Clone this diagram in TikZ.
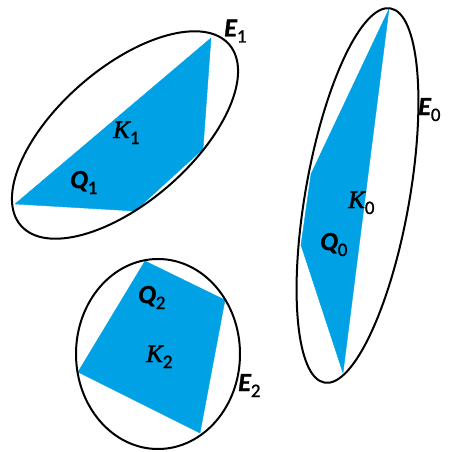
\documentclass[tikz,border=0pt]{standalone}
\usepackage{fontspec}
\setmainfont{Carlito}
\newfontfamily\bifont{Carlito}[UprightFont={* Bold Italic}, FakeBold=1.2]
\newfontfamily\subfont{Carlito}[FakeBold=1.2]
\newfontfamily\kfont{Liberation Serif}[UprightFont={* Italic}, FakeBold=1.8]
\definecolor{qblue}{RGB}{0,162,229}
\tikzset{
  ell/.style={draw=black, line width=2pt},
  qfill/.style={fill=qblue, draw=qblue, line width=0.4pt, line join=round},
  lab/.style={anchor=base west, inner sep=0pt},
}
\newcommand{\labEQ}[2]{{\fontsize{26}{28}\bifont #1}\raisebox{-6pt}{\fontsize{19}{20}\subfont #2}}
\newcommand{\labK}[2]{{\fontsize{25}{27}\kfont #1}\raisebox{-6pt}{\fontsize{19}{20}\subfont #2}}
\begin{document}
\begin{tikzpicture}[x=1pt,y=-1pt]
\useasboundingbox (0,0) rectangle (449,452);
% Q1 / K1
\fill[qfill] (211,38) -- (15,204) -- (135,211) -- (203,149) -- cycle;
\draw[ell, rotate around={41:(125,135)}] (125,135) ellipse [x radius=138pt, y radius=67pt];
% Q0 / K0
\fill[qfill] (389,9) -- (311,174) -- (301,245) -- (343,373) -- cycle;
\draw[ell, rotate around={80:(357.5,195.5)}] (357.5,195.5) ellipse [x radius=190pt, y radius=52pt];
% Q2 / K2
\fill[qfill] (145,261) -- (225,300) -- (200,433) -- (78,372) -- cycle;
\draw[ell] (158,354) ellipse [x radius=82pt, y radius=95pt];
% labels
\node[lab] (e1) at (224,36.5) {\labEQ{E}{1}};
\node[lab] (k1) at (113,138) {\labK{K}{1}};
\node[lab] (q1) at (70,188) {\labEQ{Q}{1}};
\node[lab] (e0) at (418,115) {\labEQ{E}{0}};
\node[lab] (k0) at (348,208) {\labK{K}{0}};
\node[lab] (q0) at (320,250) {\labEQ{Q}{0}};
\node[lab] (q2) at (138,303) {\labEQ{Q}{2}};
\node[lab] (k2) at (146,362) {\labK{K}{2}};
\node[lab] (e2) at (238,391) {\labEQ{E}{2}};
\end{tikzpicture}
\end{document}
